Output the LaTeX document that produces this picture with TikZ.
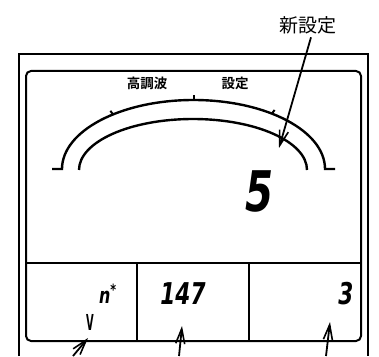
\documentclass[tikz,border=0pt]{standalone}
\usepackage{fontspec}
\usepackage{tikz}
\usetikzlibrary{arrows.meta,positioning,calc}
\newfontfamily\jpfont{Noto Sans CJK JP}[BoldFont={Noto Sans CJK JP Bold}]
\newfontfamily\segfont{DejaVu Sans}[FakeStretch=0.72]
\newfontfamily\narrowfont{DejaVu Sans}[FakeStretch=0.45]

\begin{document}
\begin{tikzpicture}[x=1pt,y=1pt,
  frame/.style={line width=2pt},
  dial/.style={line width=2.4pt},
  title/.style={font=\jpfont\bfseries\fontsize{13.5}{13.5}\selectfont,inner sep=1pt},
  bigdigit/.style={font=\segfont\bfseries\itshape\fontsize{56}{56}\selectfont,inner sep=0pt},
  smalldigit/.style={font=\segfont\bfseries\itshape\fontsize{30}{30}\selectfont,inner sep=0pt},
  pointer/.style={-{Straight Barb[length=15pt,width=9pt,line width=1.6pt]},line width=1.8pt}]
  \useasboundingbox (0,0) rectangle (379,356);
  % housing, open at the bottom
  \draw[frame] (19,0) -- (19,302) -- (368,302) -- (368,0);
  % display window and its three lower fields
  \draw[frame,rounded corners=5pt] (26,15) rectangle (361,285);
  \draw[frame] (26,93) -- (361,93);
  \draw[frame] (137,93) -- (137,15);
  \draw[frame] (249,93) -- (249,15);
  % scale
  \draw[dial] (52,187) -- (62,187) arc[start angle=180,end angle=0,x radius=131.5,y radius=69] -- (335,187);
  \draw[dial] (79,186) arc[start angle=180,end angle=0,x radius=114,y radius=51];
  \foreach \t in {127.7,90,53.4}
    \draw[line width=2pt] ($(193.5,187)+({131.5*cos(\t)},{69*sin(\t)})$) -- ($(193.5,187)+({136*cos(\t)},{73.5*sin(\t)})$);
  \node[title] (harm) at (147,273) {高調波};
  \node[title] (set) at (235,273) {設定};
  % readings
  \node[bigdigit] (setval) at (260,165) {5};
  \node[font=\segfont\bfseries\itshape\fontsize{22}{22}\selectfont,inner sep=0pt] (order) at (108,62) {n\textsuperscript{*}};
  \node[font=\narrowfont\bfseries\fontsize{22}{22}\selectfont,inner sep=0pt] (volt) at (90,34) {V};
  \node[smalldigit] (level) at (183,62) {147};
  \node[smalldigit] (count) at (346,62) {3};
  % callouts
  \node[font=\jpfont\fontsize{19}{19}\selectfont] (new) at (308,331) {新設定};
  \coordinate (newtip) at (279,208);
  \draw[pointer] ($(new.south)+(3,0)$) -- (newtip);
  \coordinate (foota) at (73,0);
  \coordinate (tipa) at (88,18);
  \coordinate (footb) at (179,0);
  \coordinate (tipb) at (182,30);
  \coordinate (footc) at (326,0);
  \coordinate (tipc) at (330,34);
  \draw[pointer] (foota) -- (tipa);
  \draw[pointer] (footb) -- (tipb);
  \draw[pointer] (footc) -- (tipc);
\end{tikzpicture}
\end{document}
